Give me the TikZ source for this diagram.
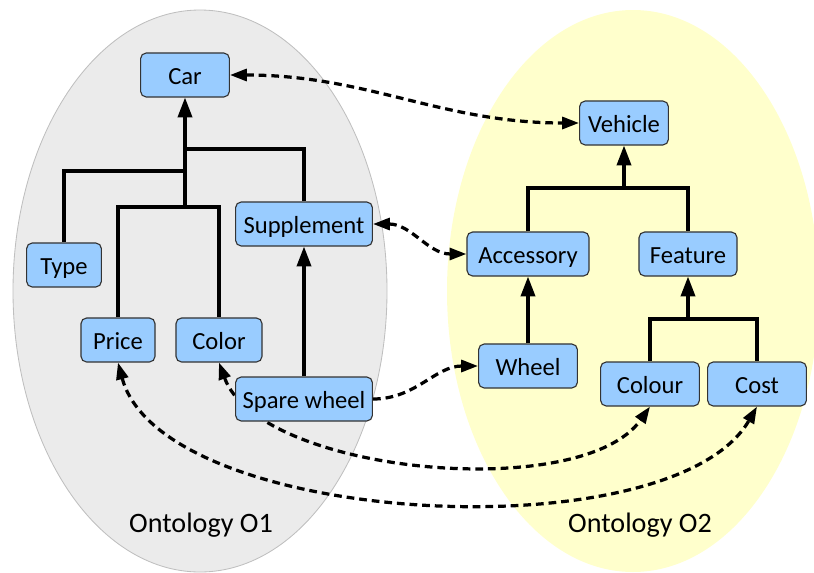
\documentclass[tikz,border=0pt]{standalone}
\usepackage{fontspec}
\setmainfont{Carlito}
\usepackage{xcolor}
\usepackage{tikz}
\usetikzlibrary{arrows.meta,backgrounds}
\definecolor{conceptblue}{HTML}{99CCFF}
\definecolor{ontogray}{HTML}{EBEBEB}
\definecolor{ontoyellow}{HTML}{FFFFCC}

\begin{document}
\begin{tikzpicture}[x=0.025cm, y=-0.025cm,
    concept/.style={draw=black!80, fill=conceptblue, rounded corners=4pt, line width=0.8pt,
      minimum height=1.1cm, inner xsep=4pt, text height=18pt, text depth=4pt,
      font=\fontsize{17.5}{21}\selectfont},
    tree/.style={line width=2.3pt, >={Triangle[length=14pt,width=10pt]}},
    match/.style={line width=2.3pt, dash pattern=on 5.5pt off 3.5pt, >={Triangle[length=12pt,width=8.5pt]}},
    onto/.style={font=\fontsize{20}{24}\selectfont, anchor=base}]
     \useasboundingbox (0,0) rectangle (814,572);

     \node[concept, minimum width=2.22cm] (Car) at (185,75) {Car};
     \node[concept, minimum width=1.87cm] (Type) at (64,265) {Type};
     \node[concept, minimum width=3.42cm] (Supplement) at (304,224) {Supplement};
     \node[concept, minimum width=1.85cm] (Price) at (118,340) {Price};
     \node[concept, minimum width=2.15cm] (Color) at (219,340) {Color};
     \node[concept, minimum width=3.42cm] (Spare) at (304,399) {Spare wheel};

     \node[concept, minimum width=2.22cm] (Vehicle) at (624,123) {Vehicle};
     \node[concept, minimum width=3.05cm] (Accessory) at (528,254) {Accessory};
     \node[concept, minimum width=2.45cm] (Feature) at (688,254) {Feature};
     \node[concept, minimum width=2.47cm] (Wheel) at (528,366) {Wheel};
     \node[concept, minimum width=2.47cm] (Colour) at (650,384) {Colour};
     \node[concept, minimum width=2.47cm] (Cost) at (757,384) {Cost};

     \node[onto] (O1) at (201,532) {Ontology O1};
     \node[onto] (O2) at (640,532) {Ontology O2};

     \coordinate (carjoin) at (185,149);
     \coordinate (typejoin) at (185,171);
     \coordinate (pcjoin) at (185,207);
     \draw[tree, ->] (pcjoin) -- (Car);
     \draw[tree] (Type.north) |- (typejoin);
     \draw[tree] (Supplement.north) |- (carjoin);
     \draw[tree] (Price.north) |- (pcjoin) -| (Color.north);
     \draw[tree, ->] (Spare) -- (Supplement);

     \coordinate (vehjoin) at (624,188);
     \coordinate (featjoin) at (688,319);
     \draw[tree, ->] (vehjoin) -- (Vehicle);
     \draw[tree] (Accessory.north) |- (vehjoin) -| (Feature.north);
     \draw[tree, ->] (Wheel) -- (Accessory);
     \draw[tree, ->] (featjoin) -- (Feature);
     \draw[tree] (Colour.north) |- (featjoin) -| (Cost.north);

     \draw[match, <->] (Car.east) to[out=0, in=180] (Vehicle.west);
     \draw[match, <->] (Supplement.east) to[out=0, in=180] (Accessory.west);
     \draw[match, ->] (Spare.east) to[out=0, in=180] (Wheel.west);
     \draw[match, <->] (Price.south) to[out=-75, in=-120, looseness=0.68] (Cost.south);

     \begin{scope}[on background layer]
     \filldraw[fill=ontogray, draw=black!25, line width=0.6pt] (200,291) ellipse [x radius=187, y radius=281];
     \fill[ontoyellow] (633,291) ellipse [x radius=186, y radius=281];
     \draw[match, <->] (Color.south) to[out=-70, in=-125, looseness=0.7] (Colour.south);
     \end{scope}
\end{tikzpicture}
\end{document}
